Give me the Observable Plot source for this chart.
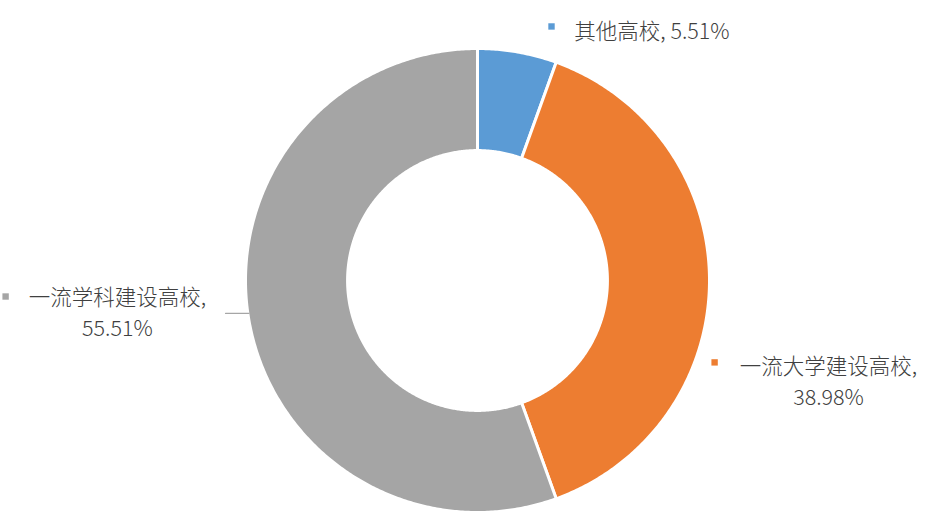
<!DOCTYPE html>
<html>
<head>
<meta charset="utf-8">
<script src="https://cdn.jsdelivr.net/npm/d3@7"></script>
<script src="https://cdn.jsdelivr.net/npm/@observablehq/plot@0.6"></script>
<style>
  html, body { margin: 0; padding: 0; background: #fff; }
  #chart { width: 942px; height: 517px; }
</style>
</head>
<body>
<div id="chart"></div>
<script>
// ---- data ----
const categories = ["其他高校", "一流大学建设高校", "一流学科建设高校"];
const values = [5.51, 38.98, 55.51];
const valueLabels = ["5.51%", "38.98%", "55.51%"];
const colors = ["#5B9BD5", "#ED7D31", "#A5A5A5"];

// ---- layout (unit coordinates, radius 1 = outer edge) ----
const innerRadius = 0.56;
const labelLayout = [
  {lines: [`${categories[0]}, ${valueLabels[0]}`], x: 0.752, y: 1.069, mx: 0.319, my: 1.095},
  {lines: [`${categories[1]},`, valueLabels[1]], x: 1.513, y: -0.372, mx: 1.022, my: -0.353},
  {lines: [`${categories[2]},`, valueLabels[2]], x: -1.552, y: -0.075, mx: -2.034, my: -0.069}
];
const lineStep = 0.135;
const leader = [{x: -1.086, y: -0.142}, {x: -0.985, y: -0.142}];

// ---- build slice outlines from d3.pie angles ----
const pie = d3.pie().sort(null).startAngle(0).endAngle(2 * Math.PI)(values);
const pts = [];
pie.forEach((s, i) => {
  const n = Math.max(8, Math.ceil((s.endAngle - s.startAngle) / (Math.PI / 360)));
  const ring = [];
  for (let k = 0; k <= n; k++) {
    const a = s.startAngle + (s.endAngle - s.startAngle) * k / n;
    ring.push({x: Math.sin(a), y: Math.cos(a)});
  }
  for (let k = n; k >= 0; k--) {
    const a = s.startAngle + (s.endAngle - s.startAngle) * k / n;
    ring.push({x: innerRadius * Math.sin(a), y: innerRadius * Math.cos(a)});
  }
  ring.push(ring[0]);
  ring.forEach(p => pts.push({...p, category: categories[i]}));
});

const markers = labelLayout.map((l, i) => ({x: l.mx, y: l.my, category: categories[i]}));
const texts = labelLayout.flatMap(l => l.lines.map((t, j) => ({text: t, x: l.x, y: l.y - j * lineStep})));

const cx = 477, cy = 280, R = 232;
const chart = Plot.plot({
  width: 942,
  height: 517,
  margin: 0,
  style: {fontFamily: "'Noto Sans CJK SC', 'Noto Sans', sans-serif", background: "#fff"},
  x: {domain: [-1, 1], range: [cx - R, cx + R], axis: null},
  y: {domain: [-1, 1], range: [cy + R, cy - R], axis: null},
  color: {domain: categories, range: colors},
  marks: [
    Plot.line(pts, {x: "x", y: "y", z: "category", fill: "category", stroke: "white", strokeWidth: 3, strokeLinejoin: "round", curve: "linear"}),
    Plot.line(leader, {x: "x", y: "y", stroke: "#A6A6A6", strokeWidth: 1.2}),
    Plot.dot(markers, {x: "x", y: "y", fill: "category", symbol: "square", r: 3.6, stroke: null}),
    Plot.text(texts, {x: "x", y: "y", text: "text", textAnchor: "middle", fontSize: 21.5, fontWeight: 300, fill: "#404040"})
  ]
});
document.getElementById("chart").appendChild(chart);
</script>
</body>
</html>
